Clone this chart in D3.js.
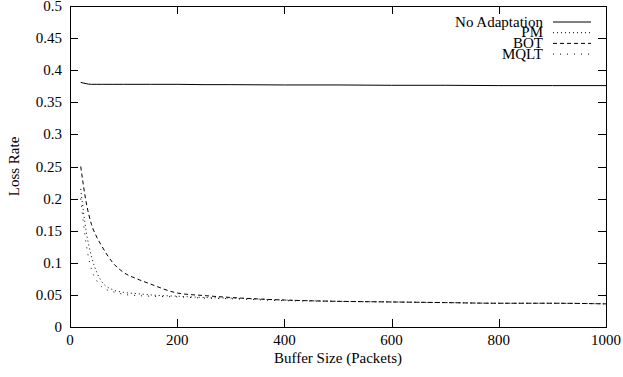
<!DOCTYPE html>
<html>
<head>
<meta charset="utf-8">
<script src="https://cdn.jsdelivr.net/npm/d3@7"></script>
<style>
  body { margin: 0; background: #fff; }
</style>
</head>
<body>
<script>
// buffer sizes (packets)
var bufferSizes = [20, 30, 40, 50, 60, 80, 100, 125, 150, 200, 250, 300, 400, 500, 600, 700, 800, 900, 1000];
var noAdaptation = [0.381, 0.379, 0.378, 0.378, 0.378, 0.378, 0.378, 0.378, 0.378, 0.378, 0.3775, 0.3775, 0.377, 0.377, 0.3765, 0.3765, 0.376, 0.376, 0.376];
var pm = [0.215, 0.150, 0.110, 0.085, 0.070, 0.058, 0.054, 0.052, 0.050, 0.048, 0.046, 0.045, 0.042, 0.040, 0.039, 0.038, 0.037, 0.037, 0.036];
var bot = [0.250, 0.195, 0.160, 0.140, 0.125, 0.100, 0.085, 0.075, 0.067, 0.053, 0.049, 0.046, 0.042, 0.040, 0.039, 0.038, 0.037, 0.037, 0.036];
var mqlt = [0.200, 0.130, 0.090, 0.072, 0.062, 0.055, 0.051, 0.049, 0.048, 0.047, 0.045, 0.044, 0.041, 0.040, 0.039, 0.038, 0.037, 0.037, 0.036];

var seriesNames = ['No Adaptation', 'PM', 'BOT', 'MQLT'];
var xTicks = [0, 200, 400, 600, 800, 1000];
var yTicks = [0, 0.05, 0.1, 0.15, 0.2, 0.25, 0.3, 0.35, 0.4, 0.45, 0.5];

(function() {
  var width = 623, height = 377;
  var mLeft = 70, mRight = 606, mTop = 6, mBottom = 327;

  var svg = d3.select('body').append('svg')
    .attr('width', width)
    .attr('height', height)
    .attr('font-family', "'Liberation Serif', 'Times New Roman', Times, serif")
    .attr('font-size', 15);

  var x = d3.scaleLinear().domain([0, 1000]).range([mLeft, mRight]);
  var y = d3.scaleLinear().domain([0, 0.5]).range([mBottom, mTop]);

  var tickLen = 8;
  var ax = svg.append('g').attr('stroke', '#000').attr('stroke-width', 1);

  // ticks on all four sides, pointing inward
  xTicks.forEach(function(t) {
    var px = Math.round(x(t)) + 0.5;
    ax.append('line').attr('x1', px).attr('x2', px).attr('y1', mBottom).attr('y2', mBottom - tickLen);
    ax.append('line').attr('x1', px).attr('x2', px).attr('y1', mTop).attr('y2', mTop + tickLen);
  });
  yTicks.forEach(function(t) {
    var py = Math.round(y(t)) + 0.5;
    ax.append('line').attr('x1', mLeft).attr('x2', mLeft + tickLen).attr('y1', py).attr('y2', py);
    ax.append('line').attr('x1', mRight).attr('x2', mRight - tickLen).attr('y1', py).attr('y2', py);
  });

  ax.append('rect')
    .attr('x', mLeft + 0.5).attr('y', mTop + 0.5)
    .attr('width', mRight - mLeft).attr('height', mBottom - mTop)
    .attr('fill', 'none');

  svg.selectAll('.xl').data(xTicks).enter().append('text')
    .attr('x', function(d) { return x(d); })
    .attr('y', mBottom + 18)
    .attr('text-anchor', 'middle')
    .text(function(d) { return d; });

  svg.selectAll('.yl').data(yTicks).enter().append('text')
    .attr('x', mLeft - 8)
    .attr('y', function(d) { return y(d) + 5; })
    .attr('text-anchor', 'end')
    .text(function(d) { return d; });

  svg.append('text')
    .attr('x', (mLeft + mRight) / 2)
    .attr('y', 363)
    .attr('text-anchor', 'middle')
    .text('Buffer Size (Packets)');

  svg.append('text')
    .attr('transform', 'translate(19,' + ((mTop + mBottom) / 2) + ') rotate(-90)')
    .attr('text-anchor', 'middle')
    .text('Loss Rate');

  // the lines
  var dashes = [null, '1,3', '4,3', '1,6'];
  var allSeries = [noAdaptation, pm, bot, mqlt];

  var line = d3.line()
    .x(function(d) { return x(d[0]); })
    .y(function(d) { return y(d[1]); })
    .curve(d3.curveMonotoneX);

  allSeries.forEach(function(vals, i) {
    svg.append('path')
      .datum(bufferSizes.map(function(b, j) { return [b, vals[j]]; }))
      .attr('d', line)
      .attr('fill', 'none')
      .attr('stroke', '#000')
      .attr('stroke-width', 1)
      .attr('stroke-dasharray', dashes[i]);
  });

  // legend
  seriesNames.forEach(function(name, i) {
    var ly = 22 + i * 10.7;
    svg.append('text')
      .attr('x', 543)
      .attr('y', ly + 4.5)
      .attr('text-anchor', 'end')
      .text(name);
    svg.append('line')
      .attr('x1', 553).attr('x2', 591)
      .attr('y1', ly).attr('y2', ly)
      .attr('stroke', '#000')
      .attr('stroke-width', 1)
      .attr('stroke-dasharray', dashes[i]);
  });
})();
</script>
</body>
</html>
